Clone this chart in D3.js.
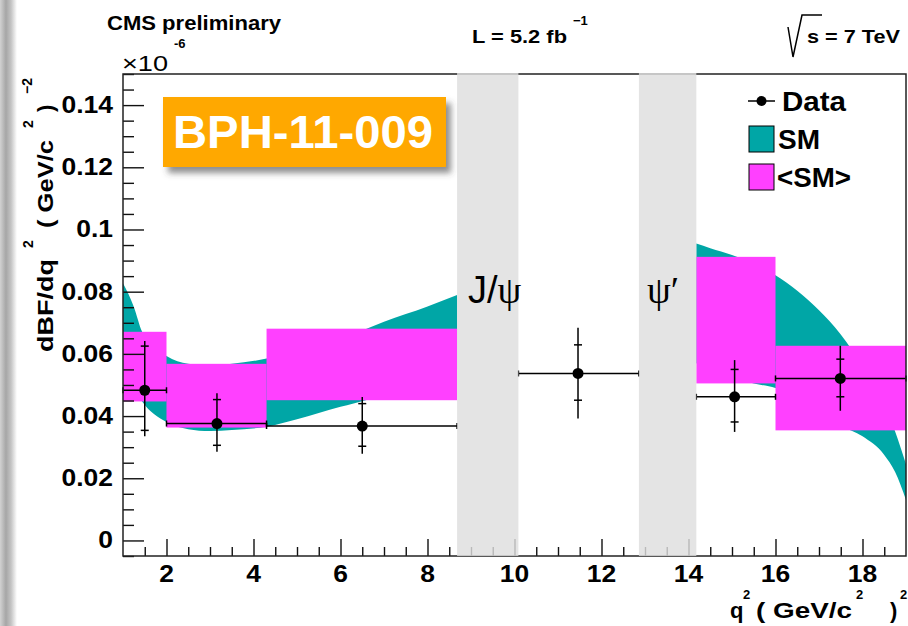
<!DOCTYPE html>
<html>
<head>
<meta charset="utf-8">
<script src="https://cdn.jsdelivr.net/npm/d3@7"></script>
<style>
body { margin: 0; background: #fff; }
svg { display: block; }
text { font-family: "Liberation Sans", Arial, Helvetica, sans-serif; }
</style>
</head>
<body>
<div id="chart"></div>
<script>
// measured bins of q^2 (GeV^2)
const binLo = [1, 2, 4.3, 10.09, 14.18, 16];
const binHi = [2, 4.3, 8.68, 12.86, 16, 19];
const dataX = [1.5, 3.16, 6.5, 11.46, 15.06, 17.49];
const dataY = [0.0483, 0.0376, 0.0368, 0.0537, 0.0462, 0.0521];
const statUp = [0.0142, 0.0077, 0.0072, 0.0092, 0.0088, 0.0062];
const statDn = [0.0129, 0.0070, 0.0065, 0.0086, 0.0081, 0.0059];
const totUp = [0.0158, 0.0097, 0.0093, 0.0147, 0.0118, 0.0105];
const totDn = [0.0148, 0.0091, 0.0089, 0.0145, 0.0113, 0.0104];

// <SM> bin averages
const avgLo = [1, 2, 4.3, 14.18, 16];
const avgHi = [2, 4.3, 8.68, 16, 19];
const avgMin = [0.0447, 0.0363, 0.0451, 0.0505, 0.0354];
const avgMax = [0.0671, 0.0568, 0.0681, 0.0912, 0.0626];

// SM band, low q^2 part
const smX1 = [1.0, 1.25, 1.44, 2.0, 2.5, 3.0, 3.5, 4.3, 5.0, 6.0, 6.6, 7.0, 8.0, 8.68];
const smUp1 = [0.0827, 0.0751, 0.0671, 0.0593, 0.0568, 0.0562, 0.0568, 0.0585, 0.0612, 0.0655, 0.0681, 0.0703, 0.0752, 0.0789];
const smDn1 = [0.0560, 0.0490, 0.0447, 0.0381, 0.0358, 0.0352, 0.0355, 0.0366, 0.0390, 0.0430, 0.0452, 0.0470, 0.0515, 0.0550];
// SM band, high q^2 part
const smX2 = [14.18, 14.5, 15.0, 15.5, 16.0, 16.5, 17.0, 17.5, 18.0, 18.5, 18.75, 19.0];
const smUp2 = [0.0955, 0.0940, 0.0918, 0.0890, 0.0853, 0.0803, 0.0740, 0.0662, 0.0560, 0.0440, 0.0350, 0.0245];
const smDn2 = [0.0570, 0.0552, 0.0525, 0.0505, 0.0490, 0.0460, 0.0425, 0.0370, 0.0335, 0.0275, 0.0220, 0.0130];

// charmonium vetoes
const vetoLo = [8.68, 12.86];
const vetoHi = [10.09, 14.18];

const xTicks = [2, 4, 6, 8, 10, 12, 14, 16, 18];
const yTicks = [0, 0.02, 0.04, 0.06, 0.08, 0.1, 0.12, 0.14];
const yTickLabels = ["0", "0.02", "0.04", "0.06", "0.08", "0.1", "0.12", "0.14"];

const width = 908, height = 626;
const frame = { left: 123, right: 906, top: 74, bottom: 556 };
const teal = "#00a6a6", magenta = "#ff40ff";

const svg = d3.select("#chart").append("svg")
    .attr("width", width)
    .attr("height", height);

const defs = svg.append("defs");
const grad = defs.append("linearGradient").attr("id", "edge");
[["0%", "#d2d2d2"], ["35%", "#a6a6a6"], ["65%", "#c4c4c4"], ["100%", "#ffffff"]]
    .forEach(s => grad.append("stop").attr("offset", s[0]).attr("stop-color", s[1]));

const shadow = defs.append("filter").attr("id", "shadow")
    .attr("x", "-10%").attr("y", "-20%").attr("width", "130%").attr("height", "150%");
shadow.append("feDropShadow")
    .attr("dx", 5).attr("dy", 6).attr("stdDeviation", 3)
    .attr("flood-color", "#444").attr("flood-opacity", 0.6);

// left page shadow strip
svg.append("rect").attr("x", 0).attr("y", 0).attr("width", 17).attr("height", height).attr("fill", "url(#edge)");

const x = d3.scaleLinear().domain([1, 19]).range([frame.left, frame.right]);
const y = d3.scaleLinear().domain([-0.005, 0.15]).range([frame.bottom, frame.top]);

function widen(sel, k) {
    sel.each(function () {
        const w = this.getComputedTextLength();
        d3.select(this).attr("textLength", w * k).attr("lengthAdjust", "spacingAndGlyphs");
    });
}

// SM band
const area = d3.area()
    .x(d => x(d[0]))
    .y0(d => y(d[2]))
    .y1(d => y(d[1]))
    .curve(d3.curveMonotoneX);
[[smX1, smUp1, smDn1], [smX2, smUp2, smDn2]].forEach(([xs, up, dn]) => {
    svg.append("path")
        .datum(xs.map((v, i) => [v, up[i], dn[i]]))
        .attr("d", area)
        .attr("fill", teal);
});

// <SM> boxes
svg.selectAll("rect.avg")
    .data(avgLo.map((d, i) => ({ lo: d, hi: avgHi[i], min: avgMin[i], max: avgMax[i] })))
    .enter().append("rect")
    .attr("class", "avg")
    .attr("x", d => x(d.lo))
    .attr("width", d => x(d.hi) - x(d.lo))
    .attr("y", d => y(d.max))
    .attr("height", d => y(d.min) - y(d.max))
    .attr("fill", magenta);

// data points
const pts = dataX.map((d, i) => ({
    x: d, y: dataY[i], lo: binLo[i], hi: binHi[i],
    su: statUp[i], sd: statDn[i], tu: totUp[i], td: totDn[i]
}));
const g = svg.append("g").attr("stroke", "#000").attr("stroke-width", 1.5);
pts.forEach(p => {
    const cx = x(p.x), cy = y(p.y);
    g.append("line").attr("x1", x(p.lo)).attr("x2", x(p.hi)).attr("y1", cy).attr("y2", cy);
    g.append("line").attr("x1", x(p.lo)).attr("x2", x(p.lo)).attr("y1", cy - 3).attr("y2", cy + 3);
    g.append("line").attr("x1", x(p.hi)).attr("x2", x(p.hi)).attr("y1", cy - 3).attr("y2", cy + 3);
    g.append("line").attr("x1", cx).attr("x2", cx).attr("y1", y(p.y + p.tu)).attr("y2", y(p.y - p.td));
    g.append("line").attr("x1", cx - 4).attr("x2", cx + 4).attr("y1", y(p.y + p.su)).attr("y2", y(p.y + p.su));
    g.append("line").attr("x1", cx - 4).attr("x2", cx + 4).attr("y1", y(p.y - p.sd)).attr("y2", y(p.y - p.sd));
});
svg.selectAll("circle.pt")
    .data(pts)
    .enter().append("circle")
    .attr("class", "pt")
    .attr("cx", d => x(d.x))
    .attr("cy", d => y(d.y))
    .attr("r", 5.5)
    .attr("fill", "#000");

// axes
const xAxis = svg.append("g")
    .attr("transform", `translate(0,${frame.bottom})`)
    .call(d3.axisTop(x).tickValues(d3.range(1.5, 19, 0.5).filter(v => v % 2 !== 0)).tickSize(9).tickFormat(""));
xAxis.append("g").call(d3.axisTop(x).tickValues(xTicks).tickSize(17).tickFormat(""));
const yAxis = svg.append("g")
    .attr("transform", `translate(${frame.left},0)`)
    .call(d3.axisRight(y).tickValues(d3.range(-0.005, 0.1501, 0.005).filter(v => Math.abs(v / 0.02 - Math.round(v / 0.02)) > 0.01)).tickSize(11).tickFormat(""));
yAxis.append("g").call(d3.axisRight(y).tickValues(yTicks).tickSize(21).tickFormat(""));
svg.selectAll(".domain").remove();
svg.selectAll(".tick line").attr("stroke", "#111").attr("stroke-width", 1.4);

// frame
svg.append("rect")
    .attr("x", frame.left).attr("y", frame.top)
    .attr("width", frame.right - frame.left).attr("height", frame.bottom - frame.top)
    .attr("fill", "none").attr("stroke", "#222").attr("stroke-width", 1.5);

// veto bands
svg.selectAll("rect.veto")
    .data(vetoLo.map((d, i) => [d, vetoHi[i]]))
    .enter().append("rect")
    .attr("class", "veto")
    .attr("x", d => x(d[0]))
    .attr("width", d => x(d[1]) - x(d[0]))
    .attr("y", frame.top - 1)
    .attr("height", frame.bottom - frame.top + 1)
    .attr("fill", "#dedede")
    .attr("fill-opacity", 0.82);

// tick labels
const xl = svg.selectAll("text.xl").data(xTicks).enter().append("text")
    .attr("class", "xl")
    .attr("x", d => x(d)).attr("y", 582)
    .attr("text-anchor", "middle")
    .style("font-size", "23px").style("font-weight", "bold")
    .text(d => d);
widen(xl, 1.15);
const yl = svg.selectAll("text.yl").data(yTicks).enter().append("text")
    .attr("class", "yl")
    .attr("x", 113).attr("y", d => y(d) + 8)
    .attr("text-anchor", "end")
    .style("font-size", "23px").style("font-weight", "bold")
    .text((d, i) => yTickLabels[i]);
widen(yl, 1.15);

function label(parent, tx, ty, str, size, weight, len) {
    const t = parent.append("text")
        .attr("x", tx).attr("y", ty)
        .style("font-size", size + "px").style("font-weight", weight)
        .text(str);
    if (len) t.attr("textLength", len).attr("lengthAdjust", "spacingAndGlyphs");
    return t;
}

// y-axis title
const yt = svg.append("g").attr("transform", "translate(53,352) rotate(-90)");
label(yt, 0, 0, "dBF/dq", 22, "bold", 93);
label(yt, 104, -20, "2", 14, "bold");
label(yt, 124, 0, "( GeV/c", 22, "bold", 88);
label(yt, 224, -20, "2", 14, "bold");
label(yt, 240, 0, ")", 22, "bold");
label(yt, 258, -21, "−2", 14, "bold");

// x-axis title
label(svg, 730, 618, "q", 22, "bold");
label(svg, 743, 599, "2", 13, "bold");
label(svg, 756, 618, "( GeV/c", 22, "bold", 96);
label(svg, 856, 599, "2", 13, "bold");
label(svg, 890, 618, ")", 22, "bold");
label(svg, 900, 599, "2", 13, "bold");

// header texts
label(svg, 107, 30, "CMS preliminary", 20, "bold", 174);
label(svg, 174, 48, "-6", 13, "bold");
label(svg, 122, 71, "×10", 22, "normal", 46);
label(svg, 472, 43, "L = 5.2 fb", 19, "bold", 95);
label(svg, 573, 25, "−1", 13, "bold");
svg.append("path")
    .attr("d", "M788,27 L793,57 L802,15 L822,15")
    .attr("fill", "none").attr("stroke", "#000").attr("stroke-width", 1.5);
label(svg, 807, 43, "s = 7 TeV", 19, "bold", 93);

// veto labels
const jp = svg.append("text").attr("x", 468).attr("y", 303).style("font-size", "38px");
jp.append("tspan").text("J/");
jp.append("tspan").style("font-family", "'Liberation Serif', serif").text("ψ");
svg.append("text").attr("x", 647).attr("y", 303)
    .style("font-size", "38px").style("font-family", "'Liberation Serif', serif")
    .text("ψ′");

// BPH tag
svg.append("rect")
    .attr("x", 163).attr("y", 97).attr("width", 283).attr("height", 70)
    .attr("fill", "#ffa800").attr("filter", "url(#shadow)");
label(svg, 173, 148, "BPH-11-009", 46, "bold", 260).attr("fill", "#fff");

// legend
const leg = svg.append("g");
leg.append("line").attr("x1", 748).attr("x2", 775).attr("y1", 101).attr("y2", 101)
    .attr("stroke", "#000").attr("stroke-width", 1.5);
leg.append("circle").attr("cx", 761.5).attr("cy", 101).attr("r", 5).attr("fill", "#000");
label(leg, 782, 111, "Data", 27, "bold", 64);
leg.append("rect").attr("x", 749).attr("y", 126).attr("width", 25).attr("height", 26)
    .attr("fill", teal).attr("stroke", "#000").attr("stroke-width", 1);
label(leg, 778, 149, "SM", 27, "bold", 42);
leg.append("rect").attr("x", 749).attr("y", 164).attr("width", 25).attr("height", 26)
    .attr("fill", magenta).attr("stroke", "#000").attr("stroke-width", 1);
label(leg, 777, 187, "<SM>", 27, "bold", 74);
</script>
</body>
</html>
